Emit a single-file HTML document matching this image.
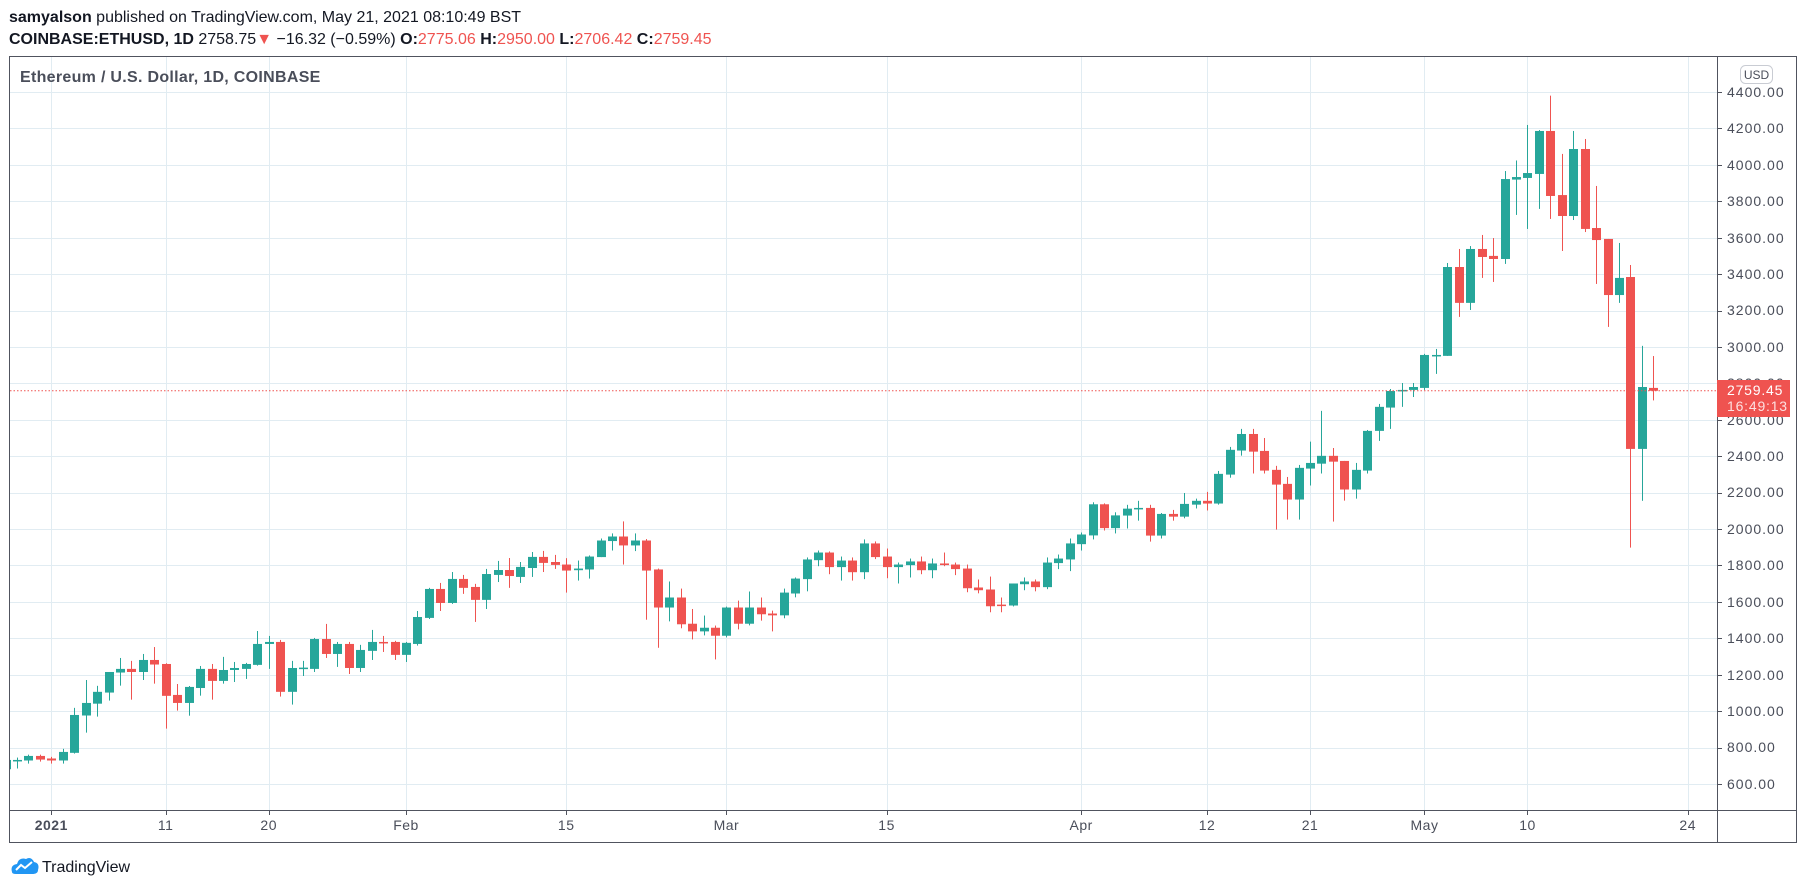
<!DOCTYPE html>
<html><head><meta charset="utf-8"><style>
html,body{margin:0;padding:0;background:#fff;width:1805px;height:890px;overflow:hidden}
svg{display:block}
text{font-family:"Liberation Sans",sans-serif}
</style></head><body>
<svg id="s" width="1805" height="890" xmlns="http://www.w3.org/2000/svg">
<defs><clipPath id="pc"><rect x="10" y="57" width="1707" height="753"/></clipPath></defs>
<g id="grid" stroke="#e1ecf2" stroke-width="1"></g>
<g id="candles" clip-path="url(#pc)"></g>
<line x1="10" y1="390.7" x2="1717" y2="390.7" stroke="#ef5350" stroke-width="1" stroke-dasharray="1.5,2"/>
<rect x="9.5" y="56.5" width="1787" height="786" fill="none" stroke="#50535e" stroke-width="1"/>
<line x1="1717.5" y1="56" x2="1717.5" y2="843" stroke="#50535e"/>
<line x1="9" y1="810.5" x2="1797" y2="810.5" stroke="#50535e"/>
<g id="ticks" stroke="#50535e"></g>
<g font-size="14" fill="#4a4e5a" letter-spacing="1" id="plabels">
<text x="1727" y="97">4400.00</text><text x="1727" y="133">4200.00</text><text x="1727" y="170">4000.00</text><text x="1727" y="206">3800.00</text><text x="1727" y="243">3600.00</text><text x="1727" y="279">3400.00</text><text x="1727" y="315">3200.00</text><text x="1727" y="352">3000.00</text><text x="1727" y="388">2800.00</text><text x="1727" y="425">2600.00</text><text x="1727" y="461">2400.00</text><text x="1727" y="497">2200.00</text><text x="1727" y="534">2000.00</text><text x="1727" y="570">1800.00</text><text x="1727" y="607">1600.00</text><text x="1727" y="643">1400.00</text><text x="1727" y="680">1200.00</text><text x="1727" y="716">1000.00</text><text x="1727" y="752">800.00</text><text x="1727" y="789">600.00</text>
</g>
<rect x="1740.5" y="65.5" width="32" height="18" rx="5" fill="#fff" stroke="#c9ccd3"/>
<text x="1756.5" y="79" font-size="12" fill="#4a4e5a" text-anchor="middle">USD</text>
<rect x="1717" y="380" width="73" height="37" fill="#ef5350"/>
<text x="1727" y="395" font-size="14" letter-spacing="0.8" fill="#fff">2759.45</text>
<text x="1727" y="411" font-size="14" letter-spacing="0.8" fill="#fde0e0">16:49:13</text>
<g font-size="14" fill="#4a4e5a" text-anchor="middle" letter-spacing="0.5" id="tlabels">
<text x="51.3" y="830" font-weight="bold">2021</text>
<text x="165.7" y="830">11</text>
<text x="268.7" y="830">20</text>
<text x="406" y="830">Feb</text>
<text x="566.2" y="830">15</text>
<text x="726.4" y="830">Mar</text>
<text x="886.6" y="830">15</text>
<text x="1081.2" y="830">Apr</text>
<text x="1207" y="830">12</text>
<text x="1310" y="830">21</text>
<text x="1424.5" y="830">May</text>
<text x="1527.5" y="830">10</text>
<text x="1687.7" y="830">24</text>
</g>
<text x="20" y="82" font-size="16" font-weight="bold" fill="#4a4e5a" letter-spacing="0.3">Ethereum / U.S. Dollar, 1D, COINBASE</text>
<text x="9" y="22" font-size="16" fill="#131722"><tspan font-weight="bold">samyalson</tspan> published on TradingView.com, May 21, 2021 08:10:49 BST</text>
<text x="9" y="44" font-size="16" fill="#131722"><tspan font-weight="bold">COINBASE:ETHUSD, 1D</tspan> 2758.75<tspan fill="#ef5350">▼</tspan> −16.32 (−0.59%) <tspan font-weight="bold">O:</tspan><tspan fill="#ef5350">2775.06</tspan> <tspan font-weight="bold">H:</tspan><tspan fill="#ef5350">2950.00</tspan> <tspan font-weight="bold">L:</tspan><tspan fill="#ef5350">2706.42</tspan> <tspan font-weight="bold">C:</tspan><tspan fill="#ef5350">2759.45</tspan></text>
<g transform="translate(10,856)">
<path d="M2 16 Q0 9 7 8 Q9 1 16 3 Q21 0 24 6 Q30 7 28 14 Q28 18 22 18 L6 18 Q2 18 2 16Z" fill="#2196f3"/>
<path d="M6 14 L11 9 L15 12 L22 6" stroke="#fff" stroke-width="2" fill="none"/>
</g>
<text x="42" y="872" font-size="16" fill="#131722">TradingView</text>
</svg>
<script>
var D=[[681,740,670,732],[729,745,685,732],[729,761,712,754],[754,761,723,734],[740,749,712,729],[729,793,712,776],[771,1018,767,979],[976,1171,882,1045],[1041,1139,970,1106],[1102,1215,1058,1215],[1212,1292,1140,1232],[1232,1276,1063,1215],[1215,1314,1171,1281],[1281,1352,1151,1256],[1259,1263,904,1084],[1089,1149,1003,1045],[1045,1138,975,1133],[1127,1248,1085,1232],[1232,1259,1063,1166],[1166,1298,1151,1226],[1226,1270,1160,1237],[1232,1265,1177,1259],[1254,1440,1250,1369],[1369,1413,1232,1380],[1380,1391,1080,1106],[1106,1276,1036,1237],[1235,1276,1193,1239],[1232,1402,1215,1396],[1396,1479,1292,1314],[1314,1380,1243,1369],[1369,1380,1204,1237],[1237,1364,1215,1336],[1331,1446,1281,1380],[1380,1413,1325,1375],[1380,1386,1281,1309],[1309,1380,1270,1375],[1369,1550,1360,1517],[1512,1677,1506,1671],[1671,1704,1550,1594],[1594,1764,1589,1726],[1726,1748,1644,1677],[1682,1699,1490,1611],[1611,1781,1561,1753],[1748,1825,1709,1775],[1775,1841,1677,1742],[1737,1819,1704,1792],[1786,1874,1737,1847],[1847,1880,1764,1814],[1819,1858,1781,1803],[1805,1840,1651,1772],[1774,1827,1717,1783],[1778,1855,1728,1849],[1846,1948,1846,1937],[1934,1976,1882,1959],[1959,2042,1805,1910],[1910,1976,1879,1937],[1937,1945,1502,1772],[1778,1783,1348,1569],[1569,1712,1493,1624],[1624,1673,1455,1477],[1480,1561,1394,1438],[1438,1525,1416,1458],[1458,1470,1284,1414],[1414,1574,1405,1569],[1569,1607,1449,1480],[1480,1657,1471,1569],[1569,1624,1497,1532],[1536,1552,1438,1526],[1526,1673,1510,1651],[1646,1734,1625,1728],[1725,1844,1658,1833],[1829,1882,1796,1871],[1871,1877,1752,1791],[1791,1849,1717,1827],[1827,1844,1717,1763],[1763,1943,1725,1921],[1921,1932,1835,1846],[1849,1893,1730,1791],[1791,1816,1701,1805],[1802,1838,1734,1822],[1822,1849,1752,1774],[1774,1838,1730,1811],[1811,1871,1796,1802],[1805,1816,1747,1780],[1783,1805,1653,1675],[1679,1723,1647,1664],[1668,1739,1543,1576],[1585,1624,1543,1580],[1580,1701,1575,1701],[1697,1734,1664,1712],[1712,1723,1658,1681],[1681,1844,1670,1816],[1813,1860,1780,1838],[1833,1948,1769,1921],[1917,1981,1882,1970],[1965,2147,1943,2136],[2136,2141,1992,2005],[2005,2092,1976,2075],[2074,2133,2003,2112],[2109,2155,2046,2116],[2116,2133,1931,1964],[1964,2088,1948,2083],[2083,2105,2046,2068],[2068,2198,2059,2138],[2134,2167,2113,2155],[2155,2204,2102,2140],[2140,2319,2134,2303],[2299,2451,2282,2435],[2431,2550,2403,2522],[2522,2550,2305,2425],[2429,2500,2305,2321],[2325,2347,1997,2244],[2248,2286,2052,2162],[2162,2352,2052,2336],[2332,2480,2239,2363],[2359,2649,2305,2402],[2402,2445,2041,2370],[2374,2374,2156,2217],[2217,2363,2167,2325],[2321,2544,2305,2539],[2539,2687,2484,2671],[2667,2769,2550,2758],[2758,2802,2671,2764],[2764,2802,2725,2780],[2775,2962,2764,2956],[2952,2989,2852,2956],[2951,3461,2951,3439],[3439,3538,3165,3242],[3242,3554,3203,3538],[3538,3615,3379,3494],[3500,3598,3357,3483],[3483,3966,3456,3922],[3919,4024,3725,3933],[3928,4219,3648,3955],[3950,4191,3758,4186],[4186,4380,3703,3829],[3834,4060,3527,3719],[3719,4186,3697,4087],[4087,4142,3631,3648],[3653,3884,3346,3587],[3593,3593,3110,3285],[3285,3571,3242,3379],[3384,3450,1898,2440],[2440,3006,2155,2780],[2775.06,2950,2706.42,2759.45]];
var NS="http://www.w3.org/2000/svg";
function Y(p){return 92+(4400-p)/200*36.42;}
function X(d){return 51.3+d*11.443;}
function el(g,n,a){var e=document.createElementNS(NS,n);for(var k in a)e.setAttribute(k,a[k]);g.appendChild(e);}
var g=document.getElementById('grid'),c=document.getElementById('candles'),t=document.getElementById('ticks');
for(var p=600;p<=4400;p+=200){var y=Math.round(Y(p))+0.5;el(g,'line',{x1:10,x2:1717,y1:y,y2:y});el(t,'line',{x1:1717,x2:1722,y1:y,y2:y});}
[0,10,19,31,45,59,73,90,101,110,120,129,143].forEach(function(d){var x=Math.round(X(d))+0.5;el(g,'line',{x1:x,x2:x,y1:57,y2:810});el(t,'line',{x1:x,x2:x,y1:810,y2:815});});
D.forEach(function(a,i){var d=i-4,x=X(d),up=a[3]>=a[0],col=up?'#26a69a':'#ef5350';
var xc=Math.round(x);
el(c,'rect',{x:xc,y:Y(a[1]),width:1,height:Math.max(1,Y(a[2])-Y(a[1])),fill:col});
var t1=Y(Math.max(a[0],a[3])),b1=Y(Math.min(a[0],a[3]));
el(c,'rect',{x:xc-4,y:t1,width:9,height:Math.max(1.5,b1-t1),fill:col});});
</script>
</body></html>
